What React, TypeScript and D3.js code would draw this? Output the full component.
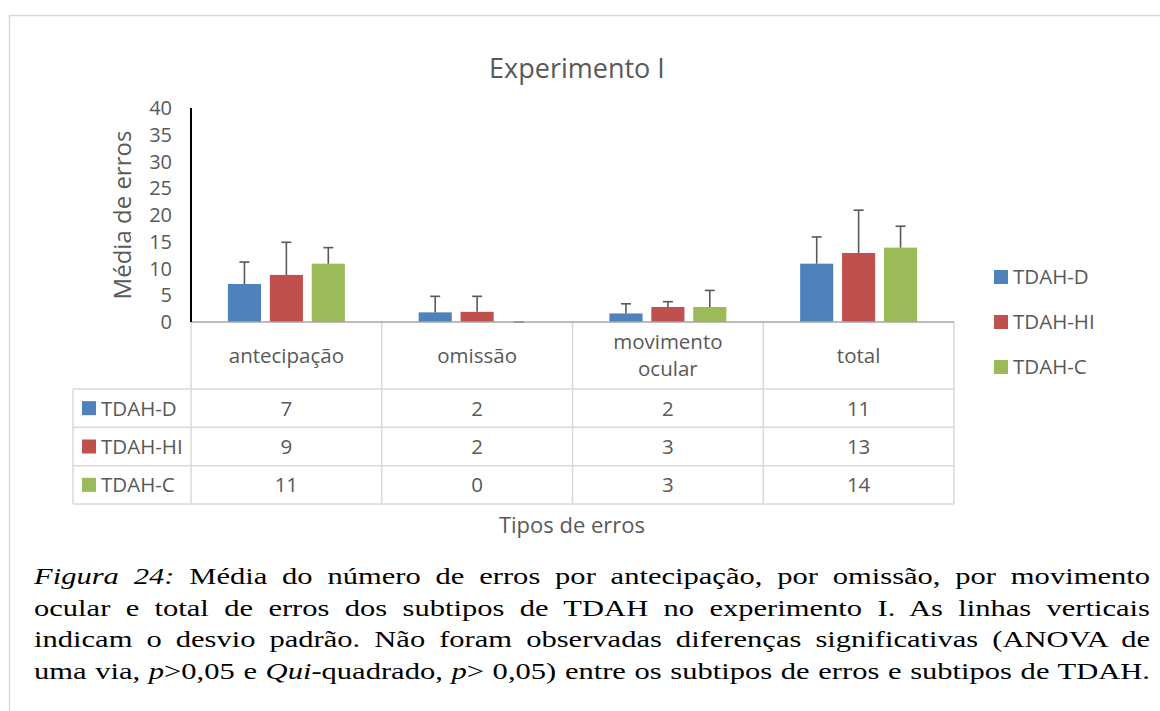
import * as d3 from 'd3'
import { useEffect, useRef } from 'react'

// values (means and standard deviations)
const categories = ['antecipação', 'omissão', 'movimento ocular', 'total']
const categoryLines = [['antecipação'], ['omissão'], ['movimento', 'ocular'], ['total']]
const series = ['TDAH-D', 'TDAH-HI', 'TDAH-C']
const meanD = [7.1, 1.8, 1.6, 10.9]
const meanHI = [8.8, 1.9, 2.8, 12.9]
const meanC = [10.9, 0, 2.8, 13.9]
const sdD = [4.1, 3.0, 1.8, 5.0]
const sdHI = [6.1, 2.9, 1.0, 8.0]
const sdC = [3.0, 0, 3.1, 4.0]
const yTicks = [0, 5, 10, 15, 20, 25, 30, 35, 40]

const chartTitle = 'Experimento I'
const yTitle = 'Média de erros'
const xTitle = 'Tipos de erros'

const captionLines = [
  [{ t: 'Figura 24:', i: true }, { t: ' Média do número de erros por antecipação, por omissão, por movimento' }],
  [{ t: 'ocular e total de erros dos subtipos de TDAH no experimento I. As linhas verticais' }],
  [{ t: 'indicam o desvio padrão. Não foram observadas diferenças significativas (ANOVA de' }],
  [
    { t: 'uma via' },
    { t: ', p', i: true },
    { t: '>0,05 e ' },
    { t: 'Qui', i: true },
    { t: '-quadrado, ' },
    { t: 'p', i: true },
    { t: '> 0,05) entre os subtipos de erros e subtipos de TDAH.' },
  ],
]

const colors = ['#4F81BD', '#C0504D', '#9BBB59']
const textColor = '#595959'
const font = '"Open Sans", sans-serif'

const App = () => {
  const svgRef = useRef<SVGSVGElement>(null)

  useEffect(() => {
    const means = [meanD, meanHI, meanC]
    const sds = [sdD, sdHI, sdC]

    const svg = d3.select(svgRef.current).html('')

    const left = 191, right = 954, top = 108, base = 322
    const tableBottom = 504, headerBottom = 389, rowLeft = 73

    const x = d3.scaleBand().domain(categories).range([left, right])
    const xs = d3.scaleBand().domain(series).range([0, x.bandwidth()]).paddingInner(0.21).paddingOuter(0.88)
    const y = d3.scaleLinear().domain([0, 40]).range([base, top])
    const rows = d3.scaleBand().domain(series).range([headerBottom, tableBottom])
    const legendY = d3.scalePoint().domain(series).range([277, 367])
    const fmt = d3.format('.0f')

    // outer frame
    svg.append('rect')
      .attr('x', 9.5).attr('y', 15.5)
      .attr('width', 1300).attr('height', 900)
      .attr('fill', 'none').attr('stroke', '#d9d9d9').attr('stroke-width', 1.5)

    svg.append('text')
      .attr('x', 577).attr('y', 78)
      .attr('text-anchor', 'middle')
      .style('font-family', font).style('font-size', '27px').style('fill', textColor)
      .text(chartTitle)

    // bars
    series.forEach((s, si) => {
      const g = svg.append('g')
      g.selectAll('rect')
        .data(categories)
        .join('rect')
        .attr('x', (c) => x(c)! + xs(s)!)
        .attr('y', (c, ci) => y(means[si][ci]))
        .attr('width', xs.bandwidth())
        .attr('height', (c, ci) => base - y(means[si][ci]))
        .attr('fill', colors[si])

      // error bars (upper only)
      const eb = svg.append('g').attr('stroke', '#595959').attr('stroke-width', 1.6)
      categories.forEach((c, ci) => {
        const cx = x(c)! + xs(s)! + xs.bandwidth() / 2
        const y1 = y(means[si][ci])
        const y2 = y(means[si][ci] + sds[si][ci])
        eb.append('line').attr('x1', cx).attr('x2', cx).attr('y1', y1).attr('y2', y2)
        eb.append('line').attr('x1', cx - 5).attr('x2', cx + 5).attr('y1', y2).attr('y2', y2)
      })
    })

    // table grid
    const grid = svg.append('g').attr('stroke', '#d9d9d9').attr('stroke-width', 1.5)
    const bounds = categories.map((c) => x(c)!).concat([right])
    bounds.forEach((bx) => {
      grid.append('line').attr('x1', bx).attr('x2', bx).attr('y1', base).attr('y2', tableBottom)
    })
    grid.append('line').attr('x1', rowLeft).attr('x2', rowLeft).attr('y1', headerBottom).attr('y2', tableBottom)
    series.forEach((s) => {
      const ry = rows(s)!
      grid.append('line').attr('x1', rowLeft).attr('x2', right).attr('y1', ry).attr('y2', ry)
    })
    grid.append('line').attr('x1', rowLeft).attr('x2', right).attr('y1', tableBottom).attr('y2', tableBottom)

    // baseline and y axis
    svg.append('line')
      .attr('x1', left).attr('x2', right).attr('y1', base).attr('y2', base)
      .attr('stroke', '#a6a6a6').attr('stroke-width', 1.5)
    svg.append('line')
      .attr('x1', left).attr('x2', left).attr('y1', top).attr('y2', base)
      .attr('stroke', '#000').attr('stroke-width', 2)

    svg.append('g')
      .selectAll('text')
      .data(yTicks)
      .join('text')
      .attr('x', 172).attr('y', (d) => y(d)).attr('dy', '0.36em')
      .attr('text-anchor', 'end')
      .style('font-family', font).style('font-size', '20px').style('fill', textColor)
      .text((d) => d)

    svg.append('text')
      .attr('transform', `translate(122, ${(top + base) / 2}) rotate(-90)`)
      .attr('text-anchor', 'middle').attr('dy', '0.36em')
      .style('font-family', font).style('font-size', '24px').style('fill', textColor)
      .text(yTitle)

    // header row
    categories.forEach((c, ci) => {
      const lines = categoryLines[ci]
      const cy = (base + headerBottom) / 2
      const lh = 27
      lines.forEach((ln, li) => {
        svg.append('text')
          .attr('x', x(c)! + x.bandwidth() / 2)
          .attr('y', cy + (li - (lines.length - 1) / 2) * lh)
          .attr('dy', '0.36em')
          .attr('text-anchor', 'middle')
          .style('font-family', font).style('font-size', '20.5px').style('fill', textColor)
          .text(ln)
      })
    })

    // row labels + cells
    series.forEach((s, si) => {
      const cy = rows(s)! + rows.bandwidth() / 2
      svg.append('rect').attr('x', 82).attr('y', cy - 7).attr('width', 14).attr('height', 14).attr('fill', colors[si])
      svg.append('text')
        .attr('x', 101).attr('y', cy).attr('dy', '0.36em')
        .style('font-family', font).style('font-size', '20.5px').style('fill', textColor)
        .text(s)
      categories.forEach((c, ci) => {
        svg.append('text')
          .attr('x', x(c)! + x.bandwidth() / 2).attr('y', cy).attr('dy', '0.36em')
          .attr('text-anchor', 'middle')
          .style('font-family', font).style('font-size', '20.5px').style('fill', textColor)
          .text(fmt(means[si][ci]))
      })
    })

    svg.append('text')
      .attr('x', 572).attr('y', 525).attr('dy', '0.36em')
      .attr('text-anchor', 'middle')
      .style('font-family', font).style('font-size', '22px').style('fill', textColor)
      .text(xTitle)

    // legend
    series.forEach((s, si) => {
      const ly = legendY(s)!
      svg.append('rect').attr('x', 994).attr('y', ly - 7).attr('width', 14).attr('height', 14).attr('fill', colors[si])
      svg.append('text')
        .attr('x', 1013).attr('y', ly).attr('dy', '0.36em')
        .style('font-family', font).style('font-size', '20.5px').style('fill', textColor)
        .text(s)
    })

    // caption: the figure is stretched horizontally, so the serif text is too
    const capLeft = 34, capRight = 1150, stretch = 1.3
    captionLines.forEach((parts, li) => {
      const t = svg.append('text')
        .attr('transform', `translate(${capLeft}, ${584 + li * 31.5}) scale(${stretch}, 1)`)
        .style('font-family', '"Liberation Serif", "Times New Roman", serif')
        .style('font-size', '23.5px').style('fill', '#000')
      parts.forEach((p) => {
        t.append('tspan').style('font-style', p.i ? 'italic' : 'normal').text(p.t)
      })
      const node = t.node() as SVGTextElement
      const w = node.getComputedTextLength()
      const spaces = parts.map((p) => p.t).join('').split(' ').length - 1
      if (spaces > 0) t.attr('word-spacing', ((capRight - capLeft) / stretch - w) / spaces)
    })
  }, [])

  return (
    <div style={{ position: 'absolute', left: 0, top: 0 }}>
      <svg ref={svgRef} width={1160} height={711} style={{ display: 'block', background: '#fff' }}></svg>
    </div>
  )
}

export default App
